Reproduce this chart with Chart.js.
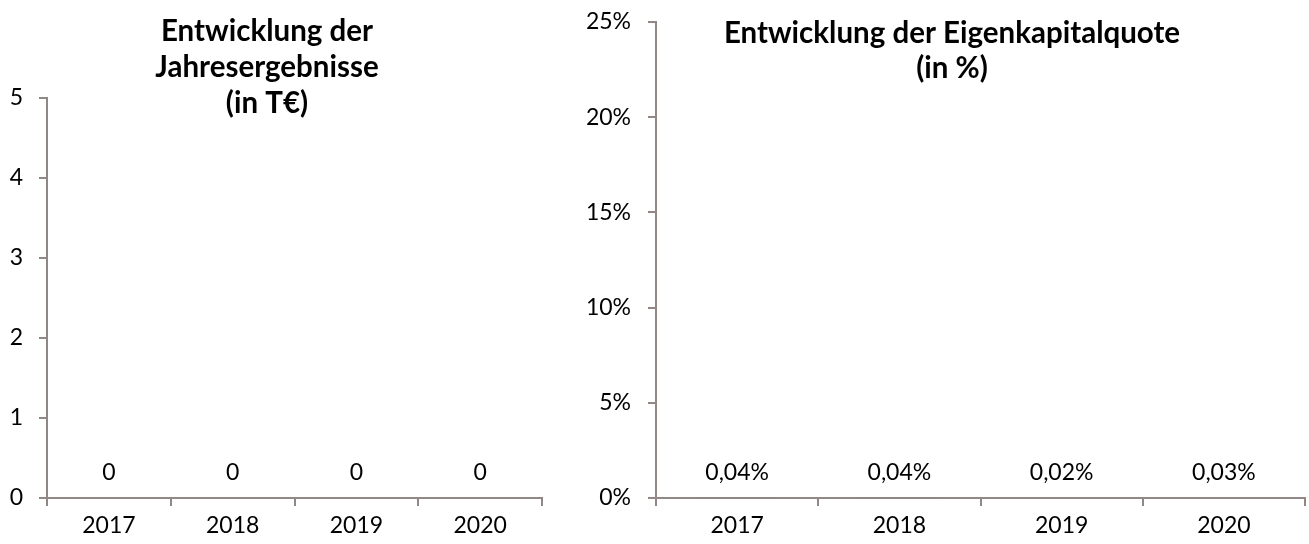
<!DOCTYPE html>
<html>
<head>
<meta charset="utf-8">
<script src="https://cdn.jsdelivr.net/npm/chart.js@4/dist/chart.umd.min.js"></script>
<style>
  body { margin: 0; background: #fff; }
  .box { position: absolute; top: 0; height: 544px; }
  #left { left: 0; width: 560px; }
  #right { left: 560px; width: 749px; }
</style>
</head>
<body>
<div class="box" id="left"><canvas id="results-chart"></canvas></div>
<div class="box" id="right"><canvas id="ratio-chart"></canvas></div>
<script>
// data
const years = ["2017", "2018", "2019", "2020"];
const results = [0, 0, 0, 0];              // Jahresergebnis in T€
const equityRatio = [0.04, 0.04, 0.02, 0.03]; // Eigenkapitalquote in %
const resultScale = [0, 5, 1];   // min, max, step
const ratioScale = [0, 25, 5];

const axisColor = "#918784";
const fontFamily = "Lato, 'Open Sans', sans-serif";

// title drawn over the plot, like the Excel original
const overTitle = {
  id: "overTitle",
  afterDraw(chart, args, opts) {
    const ctx = chart.ctx;
    ctx.save();
    ctx.font = "bold 29.5px " + fontFamily;
    ctx.fillStyle = "#000";
    ctx.textAlign = "center";
    ctx.textBaseline = "middle";
    opts.lines.forEach((line, i) => ctx.fillText(line, opts.x, opts.y + i * opts.gap));
    ctx.restore();
  }
};

// value labels above each bar
const valueLabels = {
  id: "valueLabels",
  afterDatasetsDraw(chart, args, opts) {
    const ctx = chart.ctx;
    const meta = chart.getDatasetMeta(0);
    const data = chart.data.datasets[0].data;
    ctx.save();
    ctx.font = "23px " + fontFamily;
    ctx.fillStyle = "#000";
    ctx.textAlign = "center";
    ctx.textBaseline = "middle";
    meta.data.forEach((bar, i) => {
      ctx.fillText(opts.format(data[i]), bar.x, bar.y - opts.offset);
    });
    ctx.restore();
  }
};

function makeChart(id, values, range, yWidth, pad, tickPad, tickFmt, title, labelFmt) {
  return new Chart(document.getElementById(id), {
    type: "bar",
    data: {
      labels: years,
      datasets: [{
        data: values,
        backgroundColor: axisColor,
        borderWidth: 0,
        barPercentage: 0.6
      }]
    },
    options: {
      responsive: true,
      maintainAspectRatio: false,
      animation: false,
      layout: { padding: pad },
      plugins: {
        legend: { display: false },
        tooltip: { enabled: false },
        overTitle: title,
        valueLabels: { offset: 25, format: labelFmt }
      },
      scales: {
        x: {
          grid: { display: true, drawOnChartArea: false, tickLength: 8, color: axisColor, lineWidth: 2 },
          border: { color: axisColor, width: 2 },
          ticks: { color: "#000", font: { family: fontFamily, size: 23 }, padding: 6 },
          afterFit(s) { s.height = 46; }
        },
        y: {
          min: range[0], max: range[1],
          grid: { display: true, drawOnChartArea: false, tickLength: 8, color: axisColor, lineWidth: 2 },
          border: { color: axisColor, width: 2 },
          ticks: { stepSize: range[2], color: "#000", font: { family: fontFamily, size: 23 }, padding: tickPad, callback: tickFmt },
          afterFit(s) { s.width = yWidth; s.paddingTop = 0; s.paddingBottom = 0; }
        }
      }
    },
    plugins: [overTitle, valueLabels]
  });
}

makeChart("results-chart", results, resultScale, 47,
  { top: 98, right: 18, left: 0, bottom: 0 }, 16,
  v => v,
  { lines: ["Entwicklung der", "Jahresergebnisse", "(in T€)"], x: 267, y: 31, gap: 36 },
  v => String(v));

makeChart("ratio-chart", equityRatio, ratioScale, 96,
  { top: 22, right: 4, left: 0, bottom: 0 }, 17,
  v => v + "%",
  { lines: ["Entwicklung der Eigenkapitalquote", "(in %)"], x: 392, y: 33, gap: 35 },
  v => v.toFixed(2).replace(".", ",") + "%");
</script>
</body>
</html>
